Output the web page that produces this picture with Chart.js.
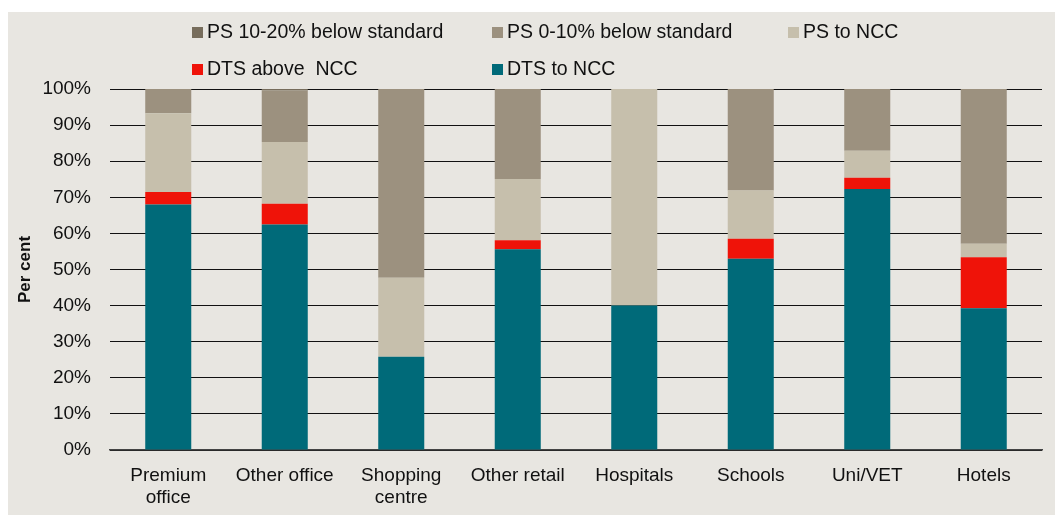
<!DOCTYPE html>
<html><head><meta charset="utf-8">
<script src="https://cdn.jsdelivr.net/npm/chart.js@4"></script>
<style>
html,body{margin:0;padding:0;background:#fff;width:1055px;height:515px;overflow:hidden;font-family:"Liberation Sans",Arial,sans-serif;}
#panel{position:absolute;left:8px;top:12px;width:1047px;height:503px;background:#e8e6e1;}
#wrap{position:absolute;left:0;top:0;width:1047px;height:503px;}
#legend{position:absolute;left:0;top:0;width:1047px;height:80px;font-size:19.5px;color:#111;}
.li{position:absolute;white-space:nowrap;line-height:20px;}
.sw{display:inline-block;width:11px;height:11px;margin-right:4px;vertical-align:0px;}
</style></head>
<body>
<div id="panel">
<div id="wrap"><canvas id="c" width="1047" height="503"></canvas></div>
<div id="legend"></div>
</div>
<script>
const categories = [["Premium","office"],"Other office",["Shopping","centre"],"Other retail","Hospitals","Schools","Uni/VET","Hotels"];
const dtsToNcc    = [68.0, 62.5, 25.8, 55.6, 40.0, 53.0, 72.3, 39.3];
const dtsAboveNcc = [3.5, 5.7, 0, 2.5, 0, 5.5, 3.1, 14.1];
const psToNcc     = [21.8, 17.1, 21.9, 17.0, 60.0, 13.4, 7.5, 3.7];
const ps0to10     = [6.7, 14.3, 52.3, 24.9, 0, 28.1, 17.1, 42.9];
const ps10to20    = [0, 0.4, 0, 0, 0, 0, 0, 0];
const yTicks = [0,10,20,30,40,50,60,70,80,90,100];

const colors = {dts:"#006a79", above:"#ef1309", ncc:"#c6bfac", p010:"#9c917f", p1020:"#776d5c"};
const datasets = [
  {label:"DTS to NCC", data:dtsToNcc, backgroundColor:colors.dts},
  {label:"DTS above  NCC", data:dtsAboveNcc, backgroundColor:colors.above},
  {label:"PS to NCC", data:psToNcc, backgroundColor:colors.ncc},
  {label:"PS 0-10% below standard", data:ps0to10, backgroundColor:colors.p010},
  {label:"PS 10-20% below standard", data:ps10to20, backgroundColor:colors.p1020}
].map(d=>Object.assign(d,{barPercentage:0.395,categoryPercentage:1,borderWidth:0}));

// legend (HTML), positions relative to panel
const legendItems = [
  {i:4, x:184, y:9},{i:3, x:484, y:9},{i:2, x:780, y:9},
  {i:1, x:184, y:46},{i:0, x:484, y:46}
];
const lg = document.getElementById('legend');
legendItems.forEach(it=>{
  const d = datasets[it.i];
  const el = document.createElement('div');
  el.className='li'; el.style.left=it.x+'px'; el.style.top=it.y+'px';
  el.innerHTML = '<span class="sw" style="background:'+d.backgroundColor+'"></span>'+d.label.replace(/  /g,' &nbsp;');
  lg.appendChild(el);
});

Chart.defaults.font.family = '"Liberation Sans", Arial, sans-serif';
Chart.defaults.color = '#111';
new Chart(document.getElementById('c'), {
  type:'bar',
  data:{labels:categories, datasets:datasets},
  options:{
    responsive:false, animation:false,
    layout:{padding:{top:77,right:13,left:0,bottom:0}},
    plugins:{legend:{display:false}, tooltip:{enabled:false}},
    scales:{
      x:{stacked:true,
         grid:{display:false, drawTicks:false},
         border:{display:true,color:'#444',width:1.5},
         ticks:{font:{size:19,lineHeight:1.15},padding:15,color:'#111',maxRotation:0,autoSkip:false},
         afterFit:s=>{s.height=65;}
      },
      y:{stacked:true,min:0,max:100,
         afterBuildTicks:s=>{s.ticks=yTicks.map(v=>({value:v}));},
         grid:{color:'#111',lineWidth:1,drawTicks:false},
         border:{display:false},
         ticks:{font:{size:19},padding:19,color:'#111',callback:v=>v+'%'},
         title:{display:true,text:'Per cent',font:{size:17,weight:'bold'},color:'#111',padding:{top:7,bottom:0}},
         afterFit:s=>{s.width=102;}
      }
    }
  }
});
</script>
</body></html>
